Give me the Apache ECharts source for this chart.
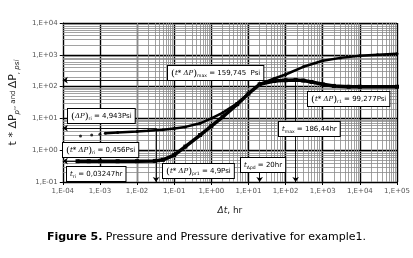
<!DOCTYPE html>
<html>
<head>
<meta charset="utf-8">
<script src="https://cdn.jsdelivr.net/npm/echarts@6/dist/echarts.min.js"></script>
<style>
  html, body { margin: 0; padding: 0; background: #fff; }
  #main { width: 413px; height: 258px; }
</style>
</head>
<body>
<div id="main"></div>
<script>
// pressure change, psi
var pressureEarlyT = [3e-4, 6e-4, 1e-3]
var pressureEarly = [2.8, 3.0, 3.2]
var pressureT = [1.4e-3, 3e-3, 1e-2, 2e-2, 5e-2, 0.1, 0.2, 0.5, 1, 2, 5, 10, 20, 50, 100, 300, 1000, 3000, 1e4, 3e4, 1e5]
var pressure = [3.4, 3.6, 3.9, 4.1, 4.4, 4.8, 5.4, 7, 10, 15, 30, 60, 120, 180, 240, 420, 650, 800, 930, 1000, 1080]

// pressure derivative t*dP, psi
var derivT = [2.5e-4, 5e-4, 1e-3, 3e-3, 1e-2, 3e-2, 5e-2, 0.1, 0.2, 0.5, 1, 2, 5, 10, 20, 50, 100, 186, 300, 500, 1000, 2000, 5000, 1e4, 1e5]
var deriv = [0.45, 0.45, 0.45, 0.45, 0.45, 0.46, 0.5, 0.7, 1.3, 3, 5.7, 11, 28, 60, 118, 150, 158, 162, 155, 140, 118, 105, 99, 99, 99]

// reference values written on the chart
var tri = 0.03247
var tdpd = 20
var tmax = 186.44
var dpMax = 159.745
var dpRi = 4.943
var derRi = 0.456

function zip(a, b) {
  return a.map(function (v, i) { return [v, b[i]] })
}

function sci(v) {
  var e = Math.round(Math.log10(v))
  var s = e < 0 ? '-' : '+'
  var n = Math.abs(e)
  return '1,E' + s + (n < 10 ? '0' + n : n)
}

// minor grid lines 2..9 of every decade
var minorX = []
for (var d = -4; d < 5; d++) {
  for (var k = 2; k < 10; k++) minorX.push({ xAxis: k * Math.pow(10, d) })
}
var minorY = []
for (var d2 = -1; d2 < 4; d2++) {
  for (var k2 = 2; k2 < 10; k2++) minorY.push({ yAxis: k2 * Math.pow(10, d2) })
}

var font = 'DejaVu Sans'
var boxStyle = {
  fill: '#000',
  font: '7px ' + font,
  backgroundColor: '#fff',
  borderColor: '#000',
  borderWidth: 1,
  padding: [2, 3, 2, 3]
}
function box(x, y, text) {
  return {
    type: 'text',
    left: x,
    top: y,
    z: 100,
    style: Object.assign({}, boxStyle, { text: text, rich: rich })
  }
}
var rich = {
  n: { fontSize: 7, fontFamily: font, color: '#000' },
  b: { fontSize: 10, fontFamily: 'DejaVu Serif', color: '#000' },
  i: { fontSize: 7, fontFamily: 'DejaVu Serif', fontStyle: 'italic', color: '#000' },
  s: { fontSize: 4.5, fontFamily: font, color: '#000', padding: [5, 0, 0, 0] }
}

var myChart = echarts.init(document.getElementById('main'))
myChart.setOption({
  animation: false,
  backgroundColor: '#fff',
  grid: { left: 53, right: 16, top: 23, bottom: 76 },
  xAxis: {
    type: 'log',
    logBase: 10,
    min: 1e-4,
    max: 1e5,
    name: '{i|Δt}{n|, hr}',
    nameLocation: 'middle',
    nameGap: 24,
    nameTextStyle: {
      rich: {
        i: { fontSize: 9, fontStyle: 'italic', fontFamily: font, color: '#222' },
        n: { fontSize: 9, fontFamily: font, color: '#222' }
      }
    },
    axisLine: { lineStyle: { color: '#000', width: 1 } },
    axisTick: { show: true, length: 3, lineStyle: { color: '#000' } },
    axisLabel: { formatter: sci, fontSize: 7, fontFamily: font, color: '#555', margin: 6 },
    splitLine: { show: true, lineStyle: { color: '#000', width: 1.4 } }
  },
  yAxis: {
    type: 'log',
    logBase: 10,
    min: 0.1,
    max: 1e4,
    name: '{n|t * ΔP}{s|p\'}{m|, and }{n|ΔP}{s|, psi}',
    nameLocation: 'middle',
    nameGap: 32,
    nameTextStyle: {
      rich: {
        n: { fontSize: 11, fontFamily: font, color: '#222' },
        m: { fontSize: 7, fontFamily: font, color: '#222' },
        s: { fontSize: 7, fontStyle: 'italic', fontFamily: font, color: '#222', padding: [8, 0, 0, 0] }
      }
    },
    axisLine: { show: true, lineStyle: { color: '#000', width: 1 } },
    axisTick: { show: true, length: 3, lineStyle: { color: '#000' } },
    axisLabel: { formatter: sci, fontSize: 7, fontFamily: font, color: '#555', margin: 5 },
    splitLine: { show: true, lineStyle: { color: '#000', width: 1.4 } }
  },
  series: [
    {
      name: 'grid',
      type: 'line',
      data: [],
      silent: true,
      z: 1,
      markLine: {
        silent: true,
        symbol: 'none',
        label: { show: false },
        lineStyle: { color: '#8a8a8a', width: 0.8, type: 'solid' },
        data: minorX.concat(minorY)
      }
    },
    {
      name: 'refs',
      type: 'line',
      data: [],
      silent: true,
      z: 3,
      markLine: {
        silent: true,
        symbol: ['none', 'arrow'],
        symbolSize: 5,
        label: { show: false },
        lineStyle: { color: '#000', width: 0.9, type: 'solid' },
        data: [
          [{ coord: [tmax, dpMax] }, { coord: [1e-4, dpMax] }],
          [{ coord: [tri, dpRi] }, { coord: [1e-4, dpRi] }],
          [{ coord: [tri, derRi] }, { coord: [1e-4, derRi] }],
          [{ coord: [tri, dpRi] }, { coord: [tri, 0.1] }],
          [{ coord: [tdpd, 0.35] }, { coord: [tdpd, 0.1] }],
          [{ coord: [tmax, dpMax] }, { coord: [tmax, 0.1] }]
        ]
      }
    },
    {
      name: 'ΔP early',
      type: 'scatter',
      data: zip(pressureEarlyT, pressureEarly),
      symbol: 'circle',
      symbolSize: 3,
      itemStyle: { color: '#000' },
      z: 5
    },
    {
      name: 'ΔP',
      type: 'line',
      data: zip(pressureT, pressure),
      symbol: 'circle',
      symbolSize: 3,
      showSymbol: true,
      lineStyle: { color: '#000', width: 2.5 },
      itemStyle: { color: '#000' },
      z: 5
    },
    {
      name: 't*ΔP\'',
      type: 'line',
      data: zip(derivT, deriv),
      symbol: 'rect',
      symbolSize: 4,
      showSymbol: true,
      lineStyle: { color: '#000', width: 3.5 },
      itemStyle: { color: '#000' },
      z: 6
    }
  ],
  graphic: [
    box(167, 65, '{b|(}{i|t* ΔP}{b|)}{s|max}{n| = 159,745  Psi}'),
    box(307, 91, '{b|(}{i|t* ΔP}{b|)}{s|r1}{n| = 99,277Psi}'),
    box(67, 108, '{b|(}{i|ΔP}{b|)}{s|ri}{n| = 4,943Psi}'),
    box(62, 142, '{b|(}{i|t* ΔP}{b|)}{s|ri}{n| = 0,456Psi}'),
    box(66, 166, '{i|t}{s|ri}{n| = 0,03247hr}'),
    box(162, 163, '{b|(}{i|t* ΔP}{b|)}{s|pr1}{n| = 4,9Psi}'),
    box(240, 157, '{i|t}{s|Δpd}{n| = 20hr}'),
    box(278, 121, '{i|t}{s|max}{n| = 186,44hr}'),
    {
      type: 'text',
      left: 'center',
      top: 231,
      style: {
        text: '{b|Figure 5.} {n|Pressure and Pressure derivative for example1.}',
        rich: {
          b: { fontSize: 11, fontWeight: 'bold', fontFamily: font, color: '#000' },
          n: { fontSize: 11, fontFamily: font, color: '#222' }
        }
      }
    }
  ]
})
</script>
</body>
</html>
